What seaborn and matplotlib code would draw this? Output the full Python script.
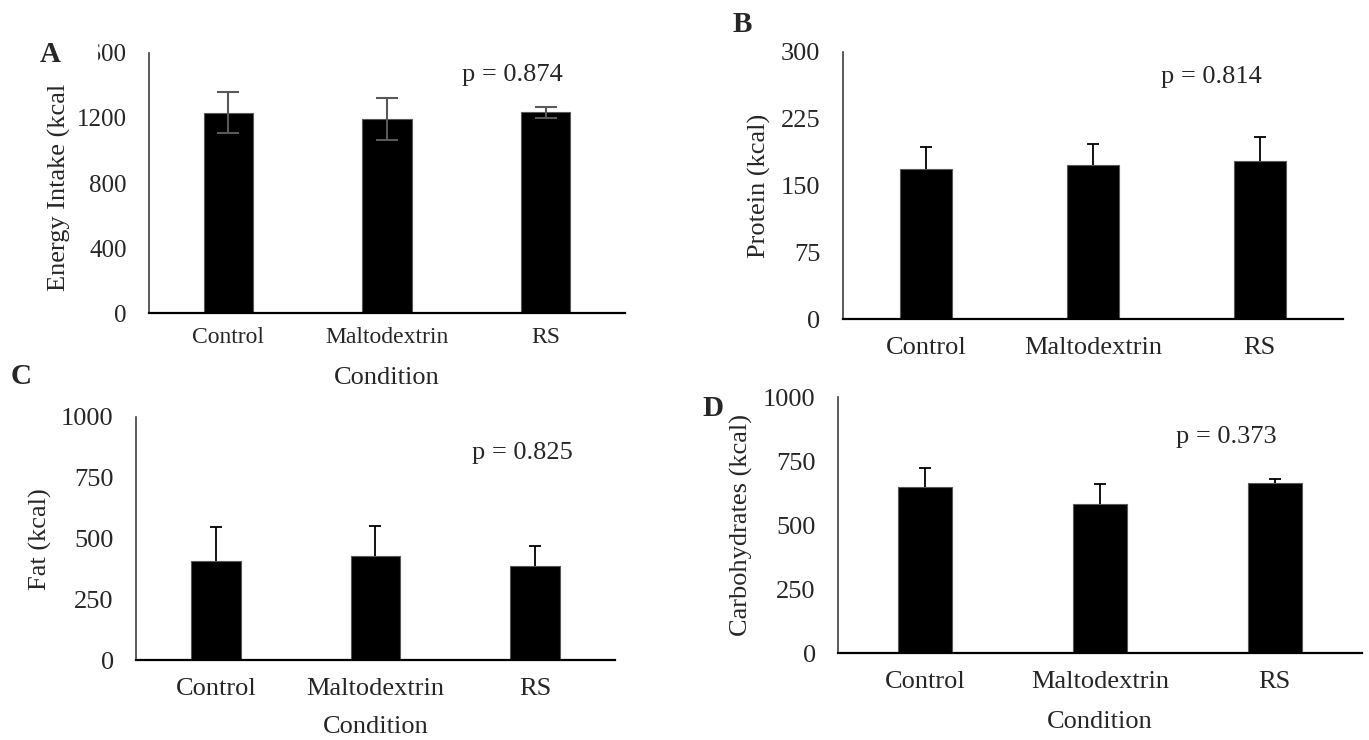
import seaborn as sns
import matplotlib.pyplot as plt
import matplotlib.patches as mpatches
import numpy as np

# data
conditions = ['Control', 'Maltodextrin', 'RS']

energy_mean = [1233, 1192, 1235]
energy_err = [128, 130, 35]

protein_mean = [168, 173, 177]
protein_err = [25, 23, 27]

fat_mean = [408, 429, 388]
fat_err = [137, 121, 81]

carb_mean = [651, 584, 664]
carb_err = [74, 76, 18]

sns.set_style('white')
plt.rcParams['font.family'] = ['Liberation Serif', 'DejaVu Serif']

fig = plt.figure(figsize=(13.69, 7.40), dpi=100)

# axes boxes in figure fractions
axA = fig.add_axes([0.1088, 0.577, 0.3477, 0.3514])
axB = fig.add_axes([0.6156, 0.5685, 0.3655, 0.3616])
axC = fig.add_axes([0.0993, 0.1081, 0.3499, 0.3288])
axD = fig.add_axes([0.6121, 0.1172, 0.3828, 0.3459])

panels = [
    # ax, means, errs, ymax, step, ylabel, ylab xy, p text, p xy, xlabel xy, tick size, both-sided err
    (axA, energy_mean, energy_err, 1600, 400, 'Energy Intake (kcal', (-0.187, 0.485),
     'p = 0.874', (0.764, 0.915), (0.5, -0.25), 17, True),
    (axB, protein_mean, protein_err, 300, 75, 'Protein (kcal)', (-0.167, 0.498),
     'p = 0.814', (0.736, 0.907), None, 19, False),
    (axC, fat_mean, fat_err, 1000, 250, 'Fat (kcal)', (-0.200, 0.497),
     'p = 0.825', (0.806, 0.851), (0.5, -0.275), 19, False),
    (axD, carb_mean, carb_err, 1000, 250, 'Carbohydrates (kcal)', (-0.185, 0.501),
     'p = 0.373', (0.742, 0.845), (0.5, -0.268), 19, False),
]

for ax, means, errs, ymax, step, ylab, ylab_xy, ptxt, p_xy, xlab_xy, tsize, both in panels:
    sns.barplot(x=conditions, y=means, color='black', width=0.31,
                edgecolor='#595959', linewidth=0.8, saturation=1, ax=ax)
    xs = np.arange(len(conditions))
    m = np.array(means)
    e = np.array(errs)
    if both:
        ax.errorbar(xs, m, yerr=e, fmt='none', ecolor='#595959',
                    elinewidth=1.5, capsize=8, capthick=1.5)
    else:
        # upper whisker only, cap at the top end
        ax.vlines(xs, m, m + e, color='black', lw=1.3)
        ax.plot(xs, m + e, ls='none', marker='_', markersize=8,
                markeredgewidth=1.3, color='black')
    ax.set_ylim(0, ymax)
    ax.set_xlim(-0.5, 2.5)
    ax.set_yticks(range(0, ymax + 1, step))
    ax.tick_params(axis='x', labelsize=tsize, pad=13 if tsize == 19 else 10, length=0)
    ax.tick_params(axis='y', labelsize=19 if tsize == 19 else 18, pad=16, length=0)
    for s in ['top', 'right']:
        ax.spines[s].set_visible(False)
    ax.spines['left'].set_color('#404040')
    ax.spines['left'].set_linewidth(1.2)
    ax.spines['bottom'].set_color('black')
    ax.spines['bottom'].set_linewidth(1.6)

    ax.set_ylabel(ylab, fontsize=19)
    ax.yaxis.label.set_va('center')
    ax.yaxis.set_label_coords(*ylab_xy)
    if xlab_xy is not None:
        ax.set_xlabel('Condition', fontsize=19)
        ax.xaxis.label.set_va('center')
        ax.xaxis.set_label_coords(*xlab_xy)
    else:
        ax.set_xlabel('')
    ax.text(p_xy[0], p_xy[1], ptxt, transform=ax.transAxes, fontsize=19,
            ha='center', va='center')

# white patch over the clipped top tick of panel A
fig.patches.append(mpatches.Rectangle((35 / 1369, 1 - 72 / 740), 62 / 1369, 34 / 740,
                                      transform=fig.transFigure, color='white', zorder=5))

W, H = 1369, 740
for letter, (px, py) in {'A': (50, 55), 'B': (742, 25), 'C': (21, 377), 'D': (713, 408)}.items():
    fig.text(px / W, 1 - py / H, letter, fontsize=21, fontweight='bold',
             ha='center', va='center', zorder=6)

plt.savefig('out.png', dpi=100)
